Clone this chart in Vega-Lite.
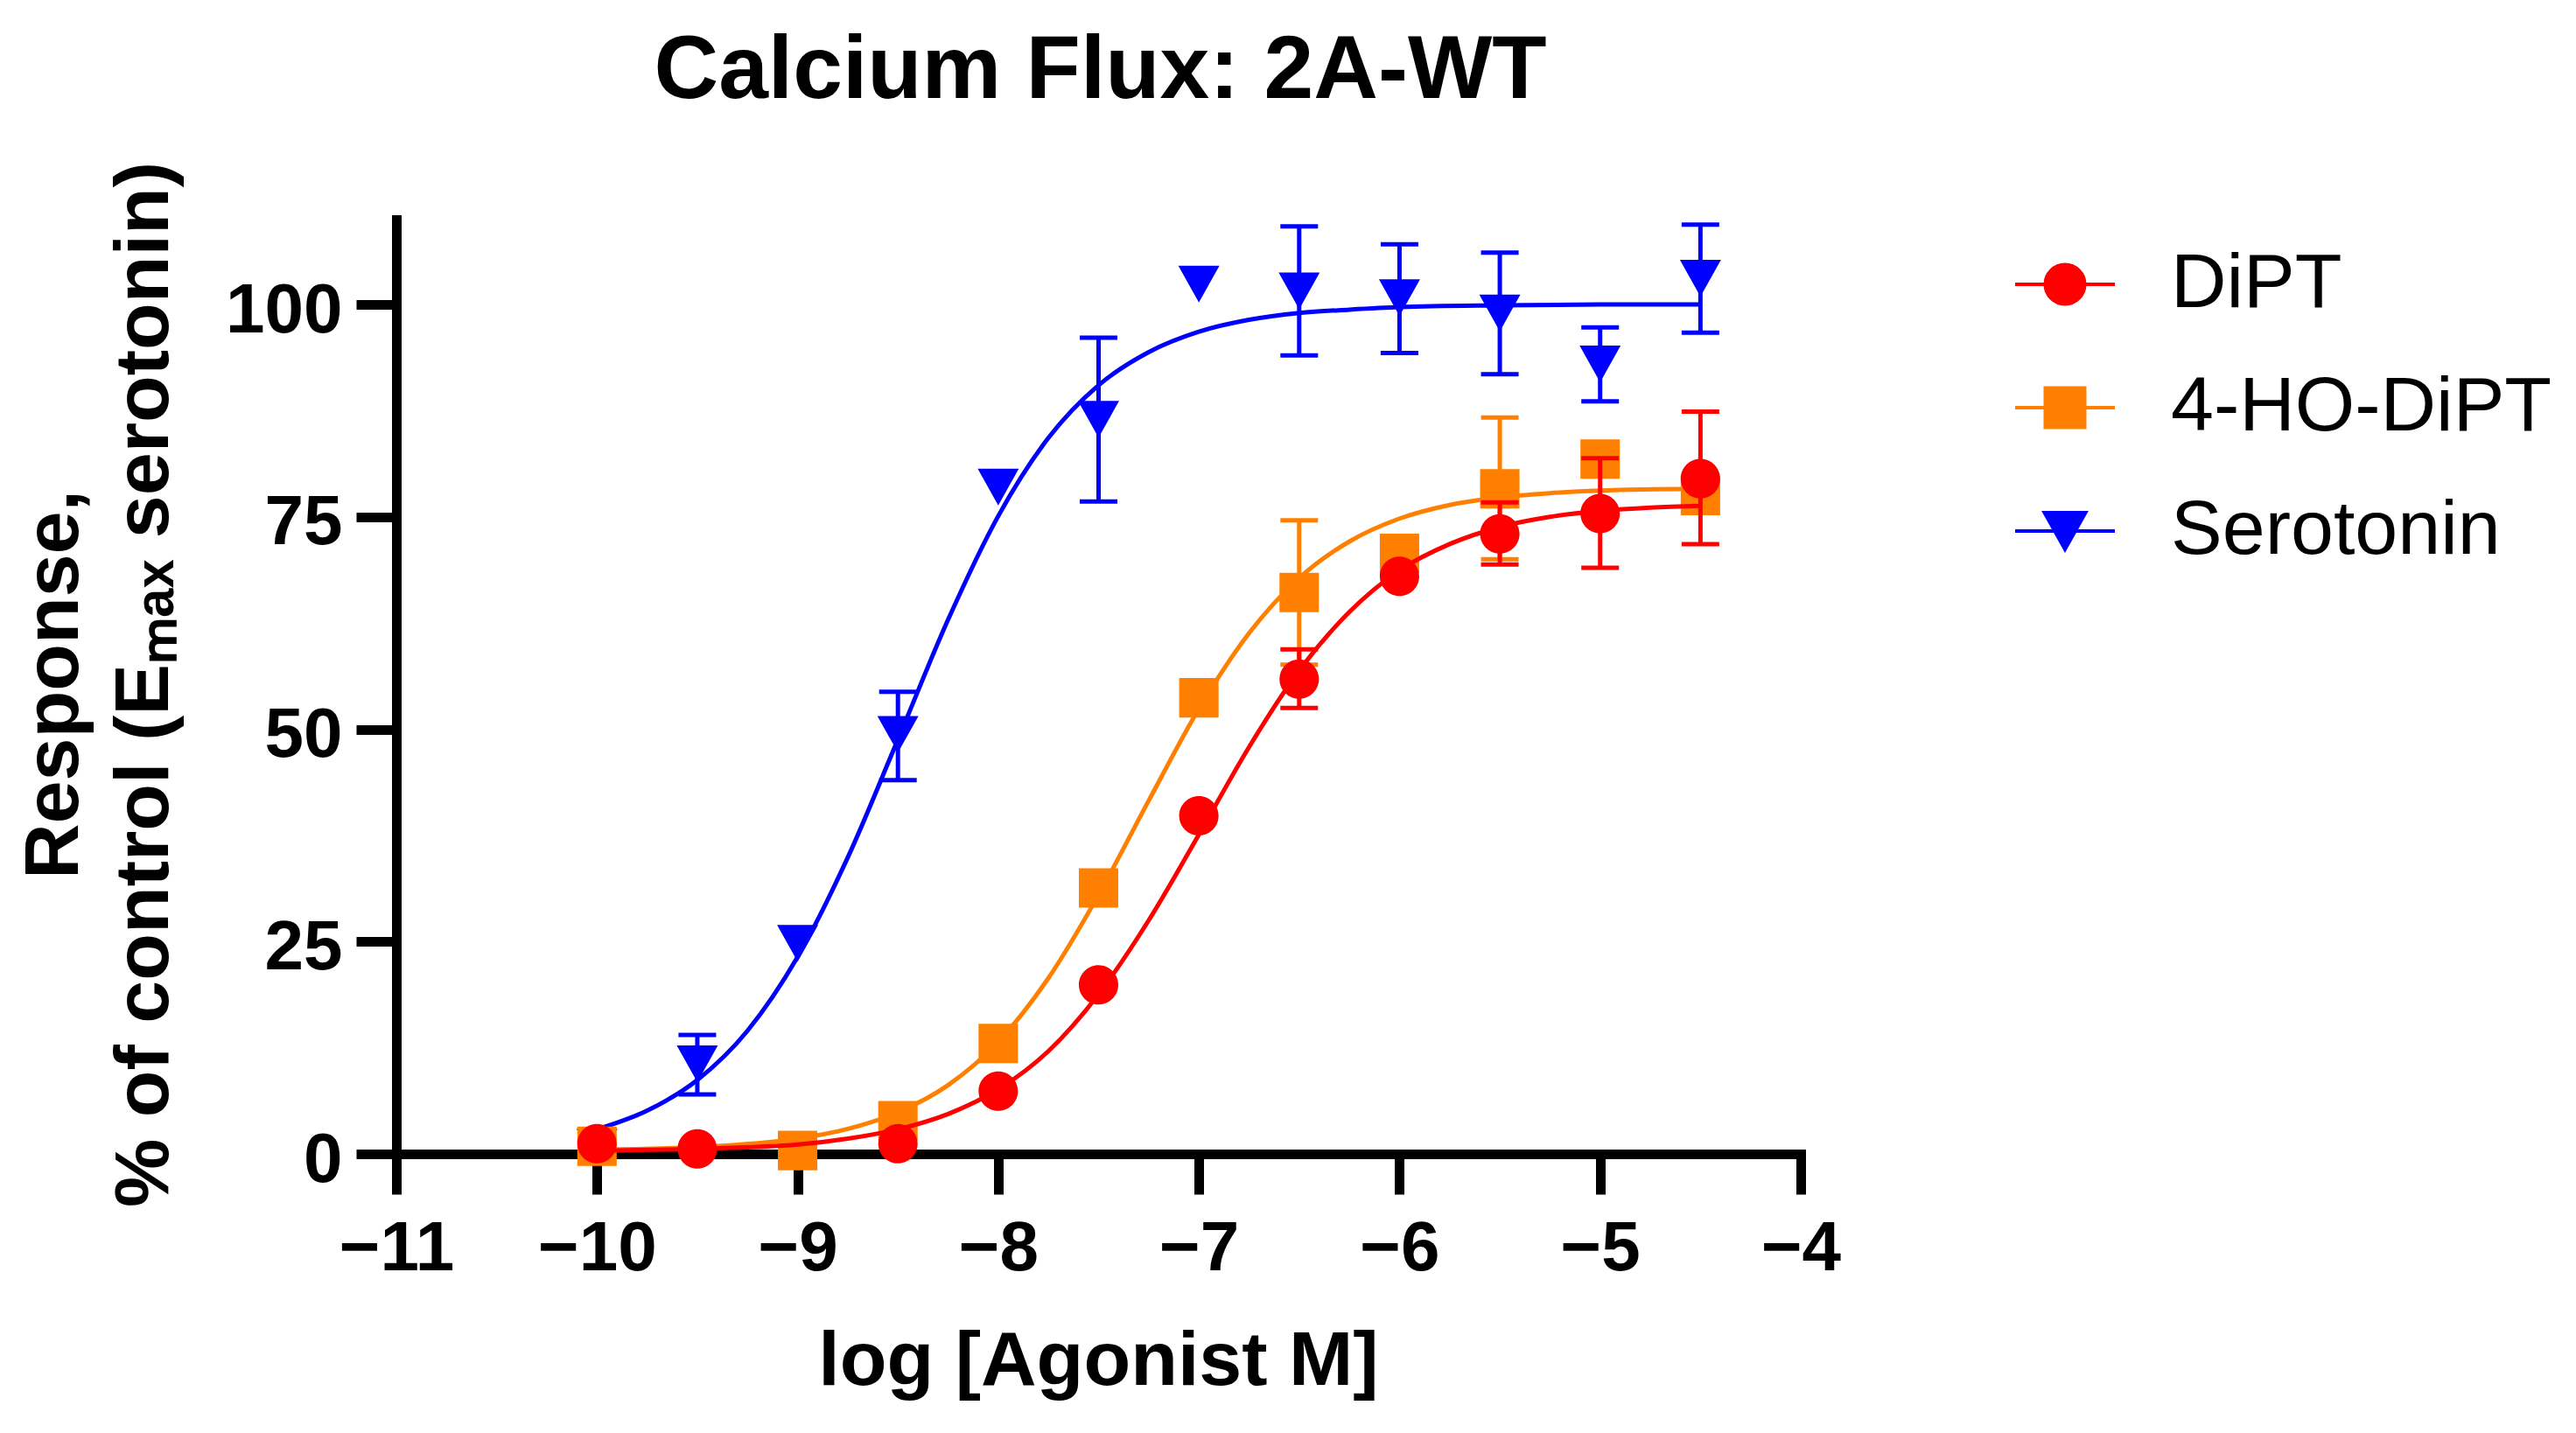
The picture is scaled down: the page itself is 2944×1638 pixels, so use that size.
{
  "$schema": "https://vega.github.io/schema/vega-lite/v6.json",
  "description": "Calcium flux concentration-response curves, 2A-WT",
  "background": "white",
  "autosize": {"type": "none"},
  "padding": {"left": 453, "top": 251, "right": 886, "bottom": 319},
  "width": 1605,
  "height": 1068,
  "title": {
    "text": "Calcium Flux: 2A-WT",
    "font": "Liberation Sans",
    "fontSize": 102,
    "fontWeight": "bold",
    "color": "#000000",
    "anchor": "middle",
    "frame": "group",
    "offset": 52,
    "dx": 2
  },
  "datasets": {
    "points": [
      {"compound": "Serotonin", "x": -10, "y": 0.8},
      {"compound": "Serotonin", "x": -9.5, "y": 10.6, "lo": 7.0, "hi": 14.0},
      {"compound": "Serotonin", "x": -9, "y": 24.8},
      {"compound": "Serotonin", "x": -8.5, "y": 49.4, "lo": 44.0, "hi": 54.4},
      {"compound": "Serotonin", "x": -8, "y": 78.5},
      {"compound": "Serotonin", "x": -7.5, "y": 86.5, "lo": 76.8, "hi": 96.1},
      {"compound": "Serotonin", "x": -7, "y": 102.4},
      {"compound": "Serotonin", "x": -6.5, "y": 101.6, "lo": 94.0, "hi": 109.2},
      {"compound": "Serotonin", "x": -6, "y": 100.8, "lo": 94.3, "hi": 107.1},
      {"compound": "Serotonin", "x": -5.5, "y": 99.0, "lo": 91.8, "hi": 106.1},
      {"compound": "Serotonin", "x": -5, "y": 93.0, "lo": 88.6, "hi": 97.3},
      {"compound": "Serotonin", "x": -4.5, "y": 103.1, "lo": 96.7, "hi": 109.4},
      {"compound": "4-HO-DiPT", "x": -10, "y": 0.9},
      {"compound": "4-HO-DiPT", "x": -9, "y": 0.4},
      {"compound": "4-HO-DiPT", "x": -8.5, "y": 3.9},
      {"compound": "4-HO-DiPT", "x": -8, "y": 13.0},
      {"compound": "4-HO-DiPT", "x": -7.5, "y": 31.3},
      {"compound": "4-HO-DiPT", "x": -7, "y": 53.7},
      {"compound": "4-HO-DiPT", "x": -6.5, "y": 66.1, "lo": 57.6, "hi": 74.6},
      {"compound": "4-HO-DiPT", "x": -6, "y": 70.7},
      {"compound": "4-HO-DiPT", "x": -5.5, "y": 78.3, "lo": 70.0, "hi": 86.7},
      {"compound": "4-HO-DiPT", "x": -5, "y": 81.8},
      {"compound": "4-HO-DiPT", "x": -4.5, "y": 77.5},
      {"compound": "DiPT", "x": -10, "y": 1.2},
      {"compound": "DiPT", "x": -9.5, "y": 0.6},
      {"compound": "DiPT", "x": -8.5, "y": 1.2},
      {"compound": "DiPT", "x": -8, "y": 7.4},
      {"compound": "DiPT", "x": -7.5, "y": 19.9},
      {"compound": "DiPT", "x": -7, "y": 39.8},
      {"compound": "DiPT", "x": -6.5, "y": 55.9, "lo": 52.5, "hi": 59.4},
      {"compound": "DiPT", "x": -6, "y": 68.0},
      {"compound": "DiPT", "x": -5.5, "y": 73.0, "lo": 69.4, "hi": 76.7},
      {"compound": "DiPT", "x": -5, "y": 75.4, "lo": 69.0, "hi": 81.9},
      {"compound": "DiPT", "x": -4.5, "y": 79.5, "lo": 71.8, "hi": 87.4}
    ],
    "curves": [
      {"compound": "Serotonin", "x": -10, "y": 2.9},
      {"compound": "Serotonin", "x": -9.75, "y": 5.1},
      {"compound": "Serotonin", "x": -9.5, "y": 8.7},
      {"compound": "Serotonin", "x": -9.25, "y": 14.5},
      {"compound": "Serotonin", "x": -9, "y": 23.2},
      {"compound": "Serotonin", "x": -8.75, "y": 34.9},
      {"compound": "Serotonin", "x": -8.5, "y": 48.8},
      {"compound": "Serotonin", "x": -8.25, "y": 62.9},
      {"compound": "Serotonin", "x": -8, "y": 75.1},
      {"compound": "Serotonin", "x": -7.75, "y": 84.3},
      {"compound": "Serotonin", "x": -7.5, "y": 90.5},
      {"compound": "Serotonin", "x": -7.25, "y": 94.4},
      {"compound": "Serotonin", "x": -7, "y": 96.8},
      {"compound": "Serotonin", "x": -6.75, "y": 98.2},
      {"compound": "Serotonin", "x": -6.5, "y": 99.0},
      {"compound": "Serotonin", "x": -6.25, "y": 99.4},
      {"compound": "Serotonin", "x": -6, "y": 99.7},
      {"compound": "Serotonin", "x": -5.5, "y": 99.9},
      {"compound": "Serotonin", "x": -5, "y": 100},
      {"compound": "Serotonin", "x": -4.5, "y": 100},
      {"compound": "4-HO-DiPT", "x": -10, "y": 0.5},
      {"compound": "4-HO-DiPT", "x": -9.5, "y": 0.8},
      {"compound": "4-HO-DiPT", "x": -9, "y": 1.8},
      {"compound": "4-HO-DiPT", "x": -8.75, "y": 2.95},
      {"compound": "4-HO-DiPT", "x": -8.5, "y": 4.9},
      {"compound": "4-HO-DiPT", "x": -8.25, "y": 8.1},
      {"compound": "4-HO-DiPT", "x": -8, "y": 13.2},
      {"compound": "4-HO-DiPT", "x": -7.75, "y": 20.7},
      {"compound": "4-HO-DiPT", "x": -7.5, "y": 30.5},
      {"compound": "4-HO-DiPT", "x": -7.25, "y": 41.6},
      {"compound": "4-HO-DiPT", "x": -7, "y": 52.4},
      {"compound": "4-HO-DiPT", "x": -6.75, "y": 61.3},
      {"compound": "4-HO-DiPT", "x": -6.5, "y": 67.8},
      {"compound": "4-HO-DiPT", "x": -6.25, "y": 72.1},
      {"compound": "4-HO-DiPT", "x": -6, "y": 74.8},
      {"compound": "4-HO-DiPT", "x": -5.75, "y": 76.4},
      {"compound": "4-HO-DiPT", "x": -5.5, "y": 77.3},
      {"compound": "4-HO-DiPT", "x": -5.25, "y": 77.8},
      {"compound": "4-HO-DiPT", "x": -5, "y": 78.1},
      {"compound": "4-HO-DiPT", "x": -4.5, "y": 78.3},
      {"compound": "DiPT", "x": -10, "y": 0.4},
      {"compound": "DiPT", "x": -9.5, "y": 0.6},
      {"compound": "DiPT", "x": -9, "y": 1.1},
      {"compound": "DiPT", "x": -8.75, "y": 1.8},
      {"compound": "DiPT", "x": -8.5, "y": 2.9},
      {"compound": "DiPT", "x": -8.25, "y": 4.7},
      {"compound": "DiPT", "x": -8, "y": 7.6},
      {"compound": "DiPT", "x": -7.75, "y": 12.1},
      {"compound": "DiPT", "x": -7.5, "y": 18.8},
      {"compound": "DiPT", "x": -7.25, "y": 27.5},
      {"compound": "DiPT", "x": -7, "y": 37.6},
      {"compound": "DiPT", "x": -6.75, "y": 47.9},
      {"compound": "DiPT", "x": -6.5, "y": 56.9},
      {"compound": "DiPT", "x": -6.25, "y": 63.8},
      {"compound": "DiPT", "x": -6, "y": 68.7},
      {"compound": "DiPT", "x": -5.75, "y": 71.8},
      {"compound": "DiPT", "x": -5.5, "y": 73.8},
      {"compound": "DiPT", "x": -5.25, "y": 75.0},
      {"compound": "DiPT", "x": -5, "y": 75.7},
      {"compound": "DiPT", "x": -4.75, "y": 76.1},
      {"compound": "DiPT", "x": -4.5, "y": 76.3}
    ]
  },
  "encoding": {
    "x": {
      "field": "x",
      "type": "quantitative",
      "scale": {"domain": [-11, -4], "nice": false, "zero": false},
      "axis": {"values": [-11, -10, -9, -8, -7, -6, -5, -4]},
      "title": "log [Agonist M]"
    },
    "y": {
      "field": "y",
      "type": "quantitative",
      "scale": {"domain": [0, 110], "nice": false},
      "axis": {"values": [0, 25, 50, 75, 100]},
      "title": ["Response,", "% of control (Eₘₐₓ serotonin)"]
    }
  },
  "layer": [
    {
      "layer": [
        {
          "data": {"name": "curves"},
          "transform": [{"filter": "datum.compound === 'Serotonin'"}],
          "mark": {"type": "line", "color": "#0000FF", "strokeWidth": 5, "interpolate": "monotone"}
        },
        {
          "data": {"name": "points"},
          "transform": [{"filter": "datum.compound === 'Serotonin'"}],
          "layer": [
            {
              "mark": {"type": "rule", "color": "#0000FF", "strokeWidth": 5},
              "encoding": {
                "y": {"field": "lo", "type": "quantitative", "title": ["Response,", "% of control (Eₘₐₓ serotonin)"]},
                "y2": {"field": "hi"}
              }
            },
            {
              "mark": {"type": "tick", "orient": "horizontal", "color": "#0000FF", "size": 43, "thickness": 5, "opacity": 1},
              "encoding": {"y": {"field": "lo", "type": "quantitative", "title": ["Response,", "% of control (Eₘₐₓ serotonin)"]}}
            },
            {
              "mark": {"type": "tick", "orient": "horizontal", "color": "#0000FF", "size": 43, "thickness": 5, "opacity": 1},
              "encoding": {"y": {"field": "hi", "type": "quantitative", "title": ["Response,", "% of control (Eₘₐₓ serotonin)"]}}
            },
            {
              "mark": {"type": "point", "filled": true, "opacity": 1, "size": 12996, "strokeWidth": 0},
              "encoding": {
                "color": {
                  "field": "compound",
                  "type": "nominal",
                  "scale": {"domain": ["DiPT", "4-HO-DiPT", "Serotonin"], "range": ["#FF0000", "#FF8000", "#0000FF"]},
                  "legend": {
                    "title": null,
                    "encode": {"symbols": {"update": {"stroke": {"scale": "color", "field": "value"}, "strokeWidth": {"value": 4}, "opacity": {"value": 1}}}}
                  }
                },
                "shape": {
                  "field": "compound",
                  "type": "nominal",
                  "scale": {
                    "domain": ["DiPT", "4-HO-DiPT", "Serotonin"],
                    "range": [
                      "M-1,0L1,0M-0.395,0A0.395,0.395,0,1,0,0.395,0A0.395,0.395,0,1,0,-0.395,0Z",
                      "M-1,0L1,0M-0.395,-0.395L0.395,-0.395L0.395,0.395L-0.395,0.395Z",
                      "M-1,0L1,0M-0.412,-0.368L0.412,-0.368L0,0.368Z"
                    ]
                  },
                  "legend": {
                    "title": null,
                    "encode": {"symbols": {"update": {"stroke": {"scale": "color", "field": "value"}, "strokeWidth": {"value": 4}, "opacity": {"value": 1}}}}
                  }
                }
              }
            }
          ]
        }
      ]
    },
    {
      "layer": [
        {
          "data": {"name": "curves"},
          "transform": [{"filter": "datum.compound === '4-HO-DiPT'"}],
          "mark": {"type": "line", "color": "#FF8000", "strokeWidth": 5, "interpolate": "monotone"}
        },
        {
          "data": {"name": "points"},
          "transform": [{"filter": "datum.compound === '4-HO-DiPT'"}],
          "layer": [
            {
              "mark": {"type": "rule", "color": "#FF8000", "strokeWidth": 5},
              "encoding": {
                "y": {"field": "lo", "type": "quantitative", "title": ["Response,", "% of control (Eₘₐₓ serotonin)"]},
                "y2": {"field": "hi"}
              }
            },
            {
              "mark": {"type": "tick", "orient": "horizontal", "color": "#FF8000", "size": 43, "thickness": 5, "opacity": 1},
              "encoding": {"y": {"field": "lo", "type": "quantitative", "title": ["Response,", "% of control (Eₘₐₓ serotonin)"]}}
            },
            {
              "mark": {"type": "tick", "orient": "horizontal", "color": "#FF8000", "size": 43, "thickness": 5, "opacity": 1},
              "encoding": {"y": {"field": "hi", "type": "quantitative", "title": ["Response,", "% of control (Eₘₐₓ serotonin)"]}}
            },
            {
              "mark": {"type": "point", "filled": true, "opacity": 1, "size": 12996, "strokeWidth": 0},
              "encoding": {
                "color": {"field": "compound", "type": "nominal"},
                "shape": {"field": "compound", "type": "nominal"}
              }
            }
          ]
        }
      ]
    },
    {
      "layer": [
        {
          "data": {"name": "curves"},
          "transform": [{"filter": "datum.compound === 'DiPT'"}],
          "mark": {"type": "line", "color": "#FF0000", "strokeWidth": 5, "interpolate": "monotone"}
        },
        {
          "data": {"name": "points"},
          "transform": [{"filter": "datum.compound === 'DiPT'"}],
          "layer": [
            {
              "mark": {"type": "rule", "color": "#FF0000", "strokeWidth": 5},
              "encoding": {
                "y": {"field": "lo", "type": "quantitative", "title": ["Response,", "% of control (Eₘₐₓ serotonin)"]},
                "y2": {"field": "hi"}
              }
            },
            {
              "mark": {"type": "tick", "orient": "horizontal", "color": "#FF0000", "size": 43, "thickness": 5, "opacity": 1},
              "encoding": {"y": {"field": "lo", "type": "quantitative", "title": ["Response,", "% of control (Eₘₐₓ serotonin)"]}}
            },
            {
              "mark": {"type": "tick", "orient": "horizontal", "color": "#FF0000", "size": 43, "thickness": 5, "opacity": 1},
              "encoding": {"y": {"field": "hi", "type": "quantitative", "title": ["Response,", "% of control (Eₘₐₓ serotonin)"]}}
            },
            {
              "mark": {"type": "point", "filled": true, "opacity": 1, "size": 12996, "strokeWidth": 0},
              "encoding": {
                "color": {"field": "compound", "type": "nominal"},
                "shape": {"field": "compound", "type": "nominal"}
              }
            }
          ]
        }
      ]
    }
  ],
  "config": {
    "view": {"stroke": null},
    "font": "Liberation Sans",
    "axis": {
      "grid": false,
      "domainColor": "#000000",
      "domainWidth": 11,
      "domainCap": "square",
      "tickColor": "#000000",
      "tickWidth": 11,
      "tickSize": 46,
      "labelFont": "Liberation Sans",
      "labelFontSize": 80,
      "labelFontWeight": "bold",
      "labelColor": "#000000",
      "labelLimit": 600,
      "titleFont": "Liberation Sans",
      "titleFontSize": 88,
      "titleFontWeight": "bold",
      "titleColor": "#000000",
      "titleLimit": 3000
    },
    "axisX": {
      "labelPadding": 23,
      "labelFlush": false,
      "titleX": 802,
      "titleY": 263,
      "titleAlign": "center",
      "titleBaseline": "alphabetic"
    },
    "axisY": {
      "labelPadding": 16,
      "labelOffset": 7,
      "titleX": -365,
      "titleY": 531,
      "titleAngle": 270,
      "titleAlign": "center",
      "titleBaseline": "alphabetic",
      "titleLineHeight": 103
    },
    "legend": {
      "orient": "none",
      "legendX": 1848,
      "legendY": 15,
      "direction": "vertical",
      "padding": 0,
      "symbolSize": 12996,
      "symbolStrokeWidth": 4,
      "symbolOpacity": 1,
      "labelFont": "Liberation Sans",
      "labelFontSize": 88,
      "labelFontWeight": "normal",
      "labelColor": "#000000",
      "labelLimit": 1000,
      "labelOffset": 62,
      "rowPadding": 38
    }
  }
}
